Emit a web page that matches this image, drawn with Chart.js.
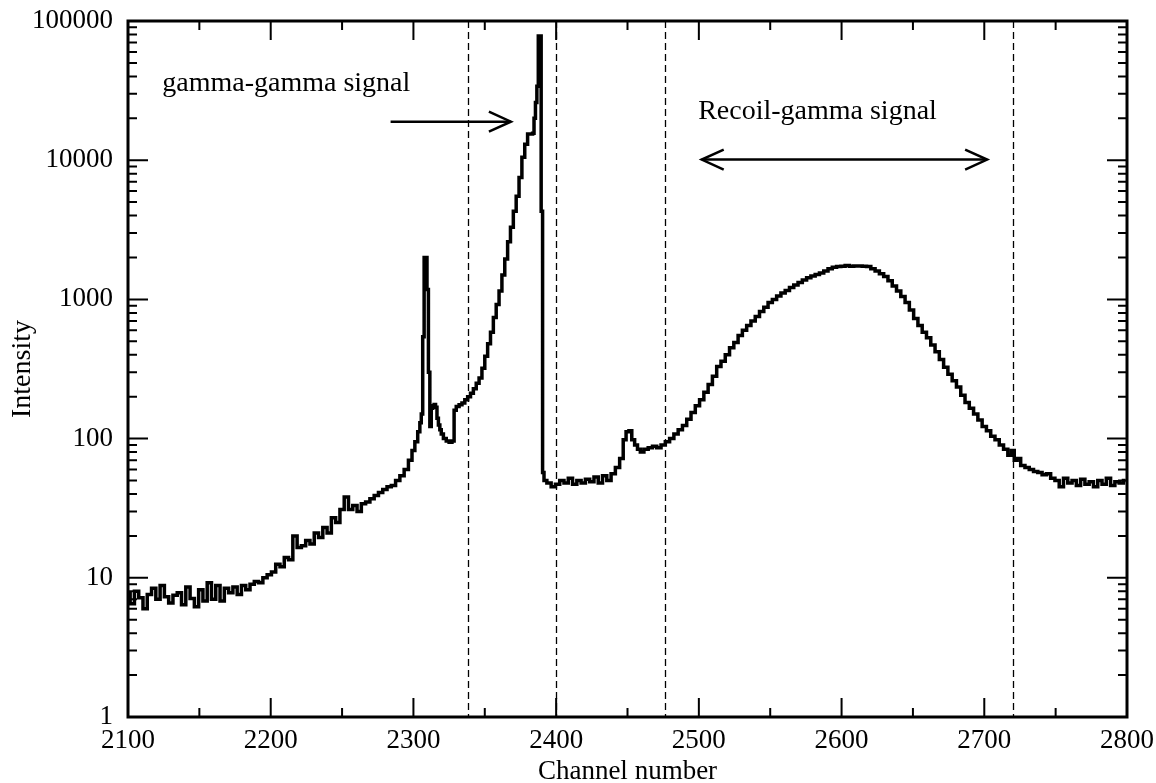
<!DOCTYPE html>
<html>
<head>
<meta charset="utf-8">
<script src="https://cdn.jsdelivr.net/npm/chart.js@4.4.1/dist/chart.umd.min.js"></script>
<style>
  html, body { margin: 0; padding: 0; background: #fff; }
  canvas { display: block; }
</style>
</head>
<body>
<canvas id="spectrum" width="1156" height="783"></canvas>
<script>
// channel numbers and counts
var channels = [
  2100,2103,2106,2109,2112,2115,2118,2121,2124,2127,2130,2133,2136,2139,2142,2145,2148,2151,2154,2157,
  2160,2163,2166,2169,2172,2175,2178,2181,2184,2187,2190,2193,2196,2199,2202,2205,2208,2211,2214,2217,
  2220,2223,2226,2229,2232,2235,2238,2241,2244,2247,2250,2253,2256,2259,2262,2265,2268,2271,2274,2277,
  2280,2283,2286,2289,2292,2295,2298,
  2300,2302,2304,2305,2306,2307,2308,2309,2310,2311,2312,2313,2314,2315,2316,2317,2318,2319,2320,2322,
  2324,2326,2328,2329,2331,2333,2335,2337,2339,2341,2343,2345,2347,2349,2351,2353,2355,2357,2359,2361,
  2363,2365,2367,2369,2371,2373,2375,2377,2379,2381,2383,2384,2385,2386,2387,2388,2389,2390,2391,
  2392,2395,2398,2401,2404,2407,2410,2413,2416,2419,2422,2425,2428,2431,2434,2437,2440,2443,2446,2448,
  2450,2452,2454,2456,2458,2460,2463,2466,2469,2472,2475,2478,2481,2484,2487,2490,2493,2496,2499,2502,
  2505,2508,2511,2514,2517,2520,2523,2526,2529,2532,2535,2538,2541,2544,2547,2550,2553,2556,2559,2562,
  2565,2568,2571,2574,2577,2580,2583,2586,2589,2592,2595,2598,2601,2604,2607,2610,2613,2616,2619,2622,
  2625,2628,2631,2634,2637,2640,2643,2646,2649,2652,2655,2658,2661,2664,2667,2670,2673,2676,2679,2682,
  2685,2688,2691,2694,2697,2700,2703,2706,2709,2712,2715,2718,2720,2722,2724,2727,2730,2733,2736,2739,
  2742,2745,2748,2751,2754,2757,2760,2763,2766,2769,2772,2775,2778,2781,2784,2787,2790,2793,2796,2799
];
var counts = [
  7.8,6.5,8.0,7.2,6.0,7.6,8.4,7.0,8.8,7.3,6.6,7.5,7.8,6.4,8.6,7.1,6.2,8.2,6.8,9.2,
  7.0,8.8,6.8,8.4,7.8,8.6,7.6,8.8,8.2,9.0,9.4,9.2,10.0,10.5,11.0,12.5,12.0,14.0,13.5,20.0,
  16.5,17.0,18.5,17.5,21.0,19.5,23.0,21.0,27.0,25.0,31.0,38.0,31.0,33.0,30.0,34.0,35.0,37.0,39.0,41.0,
  43.0,45.0,46.0,50.0,54.0,60.0,70.0,
  82,95,112,130,150,540,2000,2000,1180,300,122,165,172,176,168,140,125,116,108,100,
  96,94,96,160,170,175,180,190,200,212,228,250,272,320,390,480,580,740,920,1150,
  1500,1950,2600,3300,4300,5500,7500,10500,13000,15400,15400,15600,20000,26000,34000,78000,78000,4300,57,
  50,48,45,47,50,48,52,47,50,48,51,49,53,48,54,50,56,62,72,98,
  112,114,98,90,84,80,84,86,88,86,90,95,100,108,116,124,138,154,172,190,
  215,245,280,330,360,400,450,490,550,600,650,700,755,820,880,950,1000,1060,1110,1160,
  1220,1270,1320,1380,1430,1470,1510,1550,1600,1660,1700,1720,1730,1750,1730,1740,1740,1730,1720,1660,
  1600,1530,1460,1360,1250,1150,1050,950,840,730,650,580,530,470,420,370,325,290,260,235,
  205,182,165,150,136,122,114,104,98,90,84,76,82,70,72,64,62,60,58,57,
  55,56,52,50,45,52,48,50,46,51,47,49,45,50,47,52,46,49,48,50
];

var xTickValues = [2100, 2200, 2300, 2400, 2500, 2600, 2700, 2800];
var yTickValues = [1, 10, 100, 1000, 10000, 100000];
var cutChannels = [2338, 2400, 2476, 2720];

var fontFamily = '"Liberation Serif", "Times New Roman", serif';

var points = [];
for (let i = 0; i < channels.length; i++) {
    points.push({x: channels[i], y: counts[i]});
}

// keep the plot box where the layout padding says, ignore label overflow
function noOverflow(scale) {
    scale.paddingTop = 0;
    scale.paddingBottom = 0;
    scale.paddingLeft = 0;
    scale.paddingRight = 0;
}

// dashed cut lines, arrows and labels, all placed with the chart scales
var decorations = {
    id: 'decorations',
    beforeDatasetsDraw(chart) {
        const {ctx, chartArea: a, scales: {x}} = chart;
        ctx.save();
        ctx.strokeStyle = '#000';
        ctx.lineWidth = 1.3;
        ctx.setLineDash([7, 4]);
        cutChannels.forEach(function (c) {
            const px = Math.round(x.getPixelForValue(c)) + 0.5;
            ctx.beginPath();
            ctx.moveTo(px, a.top);
            ctx.lineTo(px, a.bottom);
            ctx.stroke();
        });
        ctx.restore();
    },
    afterDatasetsDraw(chart) {
        const {ctx, scales: {x, y}} = chart;
        ctx.save();
        ctx.fillStyle = '#000';
        ctx.strokeStyle = '#000';
        ctx.font = '28px ' + fontFamily;
        ctx.textBaseline = 'alphabetic';
        ctx.fillText('gamma-gamma signal', x.getPixelForValue(2124), y.getPixelForValue(31300));
        ctx.fillText('Recoil-gamma signal', x.getPixelForValue(2499.5), y.getPixelForValue(19700));

        function head(tx, ty, dir) {
            ctx.beginPath();
            ctx.moveTo(tx - dir * 22, ty - 10);
            ctx.lineTo(tx, ty);
            ctx.lineTo(tx - dir * 22, ty + 10);
            ctx.stroke();
        }
        ctx.lineWidth = 2.5;
        // single arrow
        let y1 = y.getPixelForValue(18900);
        let xa = x.getPixelForValue(2284), xb = x.getPixelForValue(2368.3);
        ctx.beginPath(); ctx.moveTo(xa, y1); ctx.lineTo(xb, y1); ctx.stroke();
        head(xb, y1, 1);
        // double arrow
        let y2 = y.getPixelForValue(10100);
        let xc = x.getPixelForValue(2502), xd = x.getPixelForValue(2702);
        ctx.beginPath(); ctx.moveTo(xc, y2); ctx.lineTo(xd, y2); ctx.stroke();
        head(xd, y2, 1);
        head(xc, y2, -1);
        ctx.restore();
    },
    afterDraw(chart) {
        const {ctx, chartArea: a, scales: {x, y}} = chart;
        ctx.save();
        ctx.strokeStyle = '#000';
        ctx.lineWidth = 2;
        function vtick(px, len) {
            ctx.beginPath();
            ctx.moveTo(px, a.bottom); ctx.lineTo(px, a.bottom - len);
            ctx.moveTo(px, a.top); ctx.lineTo(px, a.top + len);
            ctx.stroke();
        }
        function htick(py, len) {
            ctx.beginPath();
            ctx.moveTo(a.left, py); ctx.lineTo(a.left + len, py);
            ctx.moveTo(a.right, py); ctx.lineTo(a.right - len, py);
            ctx.stroke();
        }
        for (let i = 0; i < xTickValues.length; i++) {
            vtick(x.getPixelForValue(xTickValues[i]), 19);
            if (i < xTickValues.length - 1)
                vtick(x.getPixelForValue((xTickValues[i] + xTickValues[i + 1]) / 2), 9);
        }
        for (let i = 0; i < yTickValues.length; i++) {
            htick(y.getPixelForValue(yTickValues[i]), 20);
            if (i < yTickValues.length - 1) {
                for (let k = 2; k < 10; k++)
                    htick(y.getPixelForValue(yTickValues[i] * k), 9);
            }
        }
        ctx.lineWidth = 3;
        ctx.strokeRect(a.left, a.top, a.right - a.left, a.bottom - a.top);
        ctx.restore();
    }
};

var ctx = document.getElementById('spectrum').getContext('2d');
var chart = new Chart(ctx, {
    type: 'line',
    data: {
        datasets: [{
            data: points,
            borderColor: '#000',
            borderWidth: 3.5,
            stepped: 'middle',
            pointRadius: 0,
            fill: false
        }]
    },
    options: {
        responsive: false,
        animation: false,
        devicePixelRatio: 1,
        layout: { padding: { top: 21, right: 29, left: 0, bottom: 0 } },
        plugins: { legend: { display: false }, tooltip: { enabled: false } },
        scales: {
            x: {
                type: 'linear',
                min: 2100,
                max: 2800,
                grid: { display: false, drawTicks: false },
                border: { display: false },
                afterBuildTicks: function (scale) {
                    scale.ticks = xTickValues.map(function (v) { return {value: v}; });
                },
                afterFit: function (scale) {
                    scale.height = 66;
                    noOverflow(scale);
                },
                ticks: {
                    color: '#000',
                    padding: 8,
                    maxRotation: 0,
                    font: { family: fontFamily, size: 27 },
                    callback: function (value) { return String(value); }
                },
                title: {
                    display: true,
                    text: 'Channel number',
                    color: '#000',
                    padding: 0,
                    font: { family: fontFamily, size: 27, lineHeight: 0.85 }
                }
            },
            y: {
                type: 'logarithmic',
                min: 1,
                max: 100000,
                grid: { display: false, drawTicks: false },
                border: { display: false },
                afterBuildTicks: function (scale) {
                    scale.ticks = yTickValues.map(function (v) { return {value: v}; });
                },
                afterFit: function (scale) {
                    scale.width = 128;
                    noOverflow(scale);
                },
                ticks: {
                    color: '#000',
                    padding: 15,
                    font: { family: fontFamily, size: 27 },
                    callback: function (value) { return String(value); }
                },
                title: {
                    display: true,
                    text: 'Intensity',
                    color: '#000',
                    padding: { top: 9, bottom: 0 },
                    font: { family: fontFamily, size: 28, lineHeight: 1 }
                }
            }
        }
    },
    plugins: [decorations]
});
</script>
</body>
</html>
